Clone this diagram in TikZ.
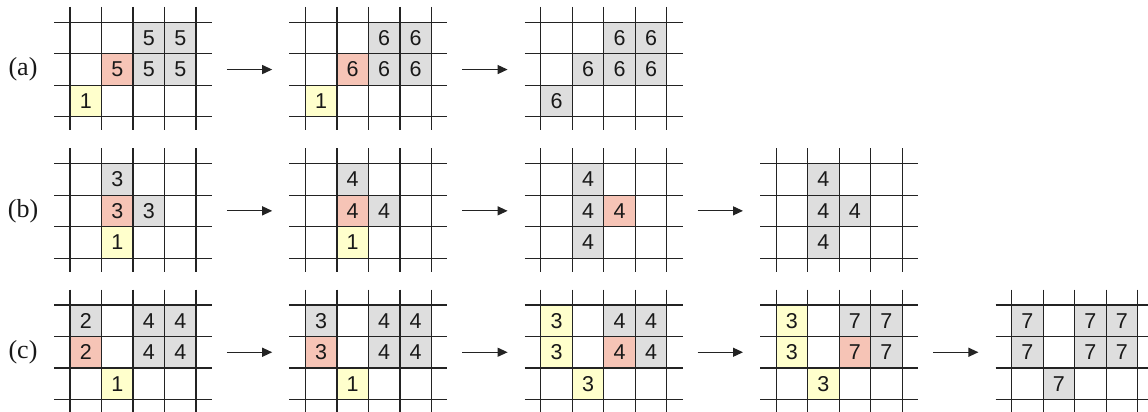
\documentclass[tikz,border=0pt]{standalone}
\usepackage{fontspec}
\setmainfont{Liberation Serif}
\newfontfamily\digitfont{Liberation Sans}
\usetikzlibrary{arrows.meta}
\definecolor{cg}{RGB}{222,222,222}
\definecolor{cr}{RGB}{246,196,182}
\definecolor{cy}{RGB}{255,255,204}
\definecolor{ln}{RGB}{35,35,35}
\tikzset{
  cell/.style={rectangle, minimum size=31.5pt, inner sep=0pt, text=black!90,
    font=\digitfont\fontsize{21.5}{21.5}\selectfont},
  gridline/.style={draw=ln, line width=1.2pt},
  panelbox/.style={rectangle, minimum width=126pt, minimum height=94.5pt, inner sep=0pt},
  rowlabel/.style={font=\fontsize{26}{26}\selectfont, text=black!90},
  arr/.style={draw=ln, line width=1.2pt, -{Triangle[length=10pt,width=9pt]}},
}
\newcommand{\gridpanel}[4]{%
  \foreach \c/\r/\f/\n in {#4}{
    \node[cell, fill=\f] (#1-\c-\r) at ({#2+(\c-0.5)*31.5}, {#3+(\r-0.5)*31.5}) {\n};
  }
  \foreach \k in {0,...,4}{\draw[gridline] ({#2+\k*31.5},{#3-15.5}) -- ({#2+\k*31.5},{#3+108});}
  \foreach \k in {0,...,3}{\draw[gridline] ({#2-16},{#3+\k*31.5}) -- ({#2+141.7},{#3+\k*31.5});}
  \node[panelbox] (#1) at ({#2+63},{#3+47.25}) {};
}
\newcommand{\steparrow}[2]{%
  \coordinate (#1-out) at ([xshift=30.7pt]#1.east);
  \coordinate (#2-in) at ([xshift=-33pt]#2.west);
  \draw[arr] (#1-out) -- (#2-in);
}
\begin{document}
\begin{tikzpicture}[x=1pt,y=-1pt]
\useasboundingbox (0,0) rectangle (1148,412);
\fill[white] (0,0) rectangle (1148,412);
% row (a)
\node[rowlabel] (la) at (23,69.5) {(a)};
\gridpanel{a1}{70}{22.3}{3/1/cg/5,4/1/cg/5,2/2/cr/5,3/2/cg/5,4/2/cg/5,1/3/cy/1}
\gridpanel{a2}{305.4}{22.3}{3/1/cg/6,4/1/cg/6,2/2/cr/6,3/2/cg/6,4/2/cg/6,1/3/cy/1}
\gridpanel{a3}{540.8}{22.3}{3/1/cg/6,4/1/cg/6,2/2/cg/6,3/2/cg/6,4/2/cg/6,1/3/cg/6}
\steparrow{a1}{a2}
\steparrow{a2}{a3}
% row (b)
\node[rowlabel] (lb) at (23,210.8) {(b)};
\gridpanel{b1}{70}{163.6}{2/1/cg/3,2/2/cr/3,3/2/cg/3,2/3/cy/1}
\gridpanel{b2}{305.4}{163.6}{2/1/cg/4,2/2/cr/4,3/2/cg/4,2/3/cy/1}
\gridpanel{b3}{540.8}{163.6}{2/1/cg/4,2/2/cg/4,3/2/cr/4,2/3/cg/4}
\gridpanel{b4}{776.2}{163.6}{2/1/cg/4,2/2/cg/4,3/2/cg/4,2/3/cg/4}
\steparrow{b1}{b2}
\steparrow{b2}{b3}
\steparrow{b3}{b4}
% row (c)
\node[rowlabel] (lc) at (23,352.2) {(c)};
\gridpanel{c1}{70}{305}{1/1/cg/2,3/1/cg/4,4/1/cg/4,1/2/cr/2,3/2/cg/4,4/2/cg/4,2/3/cy/1}
\gridpanel{c2}{305.4}{305}{1/1/cg/3,3/1/cg/4,4/1/cg/4,1/2/cr/3,3/2/cg/4,4/2/cg/4,2/3/cy/1}
\gridpanel{c3}{540.8}{305}{1/1/cy/3,3/1/cg/4,4/1/cg/4,1/2/cy/3,3/2/cr/4,4/2/cg/4,2/3/cy/3}
\gridpanel{c4}{776.2}{305}{1/1/cy/3,3/1/cg/7,4/1/cg/7,1/2/cy/3,3/2/cr/7,4/2/cg/7,2/3/cy/3}
\gridpanel{c5}{1011.6}{305}{1/1/cg/7,3/1/cg/7,4/1/cg/7,1/2/cg/7,3/2/cg/7,4/2/cg/7,2/3/cg/7}
\steparrow{c1}{c2}
\steparrow{c2}{c3}
\steparrow{c3}{c4}
\steparrow{c4}{c5}
\end{tikzpicture}
\end{document}
